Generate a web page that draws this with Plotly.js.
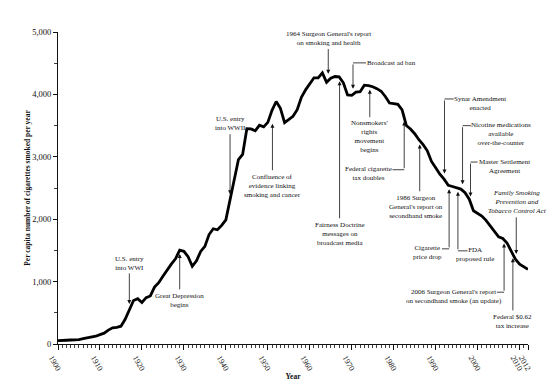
<!DOCTYPE html>
<html><head><meta charset="utf-8">
<script src="https://cdn.plot.ly/plotly-3.0.1.min.js"></script>
<style>html,body{margin:0;padding:0;background:#fff}#chart{width:560px;height:386px}</style>
</head><body><div id="chart"></div>
<script>
const years = [1900,1901,1902,1903,1904,1905,1906,1907,1908,1909,1910,1911,1912,1913,1914,1915,1916,1917,1918,1919,
1920,1921,1922,1923,1924,1925,1926,1927,1928,1929,1930,1931,1932,1933,1934,1935,1936,1937,1938,1939,
1940,1941,1942,1943,1944,1945,1946,1947,1948,1949,1950,1951,1952,1953,1954,1955,1956,1957,1958,1959,
1960,1961,1962,1963,1964,1965,1966,1967,1968,1969,1970,1971,1972,1973,1974,1975,1976,1977,1978,1979,
1980,1981,1982,1983,1984,1985,1986,1987,1988,1989,1990,1991,1992,1993,1994,1995,1996,1997,1998,1999,
2000,2001,2002,2003,2004,2005,2006,2007,2008,2009,2010,2011,2012];
const perCapita = [54,53,60,64,66,70,86,99,105,125,151,173,223,260,267,285,395,551,697,727,
665,742,770,911,982,1085,1189,1279,1366,1504,1485,1399,1245,1334,1483,1564,1754,1847,1830,1900,
1990,2300,2620,2956,3039,3449,3446,3416,3505,3480,3552,3744,3886,3778,3546,3597,3650,3755,3953,4073,
4171,4266,4265,4345,4194,4258,4287,4280,4186,3993,3985,4037,4043,4148,4141,4123,4092,4051,3967,3861,
3851,3840,3753,3502,3446,3370,3274,3197,3096,2926,2826,2720,2641,2543,2524,2505,2482,2423,2320,2136,
2092,2051,1982,1890,1814,1716,1691,1619,1487,1358,1280,1232,1196];
const xTickVals = [1900,1910,1920,1930,1940,1950,1960,1970,1980,1990,2000,2010,2012];
const xTickText = ['1900','1910','1920','1930','1940','1950','1960','1970','1980','1990','2000','2010','2012'];
const yTickVals = [0,1000,2000,3000,4000,5000];
const yTickText = ['0','1,000','2,000','3,000','4,000','5,000'];

function at(yr){
  for(let i=0;i<years.length-1;i++){
    if(yr>=years[i] && yr<=years[i+1]){
      const t=(yr-years[i])/(years[i+1]-years[i]);
      return perCapita[i]+t*(perCapita[i+1]-perCapita[i]);
    }
  }
  return perCapita[perCapita.length-1];
}

const FONT = '"Liberation Serif", "Times New Roman", serif';
const INK = '#111111';
const annotations = [];
const shapes = [];
function label(x,y,text,opts){
  annotations.push(Object.assign({x:x,y:y,xref:'x',yref:'y',text:text,showarrow:false,
    font:{family:FONT,size:7,color:INK},align:'center',xanchor:'center',yanchor:'middle',borderpad:0},opts||{}));
}
function arrow(x0,y0,x1,y1){
  annotations.push({x:x1,y:y1,ax:x0,ay:y0,axref:'x',ayref:'y',xref:'x',yref:'y',text:'',
    showarrow:true,arrowhead:2,arrowsize:1,arrowwidth:0.8,arrowcolor:INK,standoff:0});
}
function seg(x0,y0,x1,y1){
  shapes.push({type:'line',xref:'x',yref:'y',x0:x0,y0:y0,x1:x1,y1:y1,line:{color:INK,width:0.8}});
}

// annotations
label(1964.4,4895,"1964 Surgeon General's report<br>on smoking and health");
arrow(1964.4,4751,1964.4,at(1964.4)+110);

label(1973.5,4505,"Broadcast ad ban",{xanchor:'left'});
seg(1970.3,4505,1973.4,4505);
arrow(1970.3,4505,1970.3,at(1970.3)+90);

label(1974.3,3330,"Nonsmokers'<br>rights<br>movement<br>begins");
arrow(1974.3,3611,1974.3,at(1974.3)-60);

label(1973.9,2725,"Federal cigarette<br>tax doubles");
seg(1979.7,2793,1982.5,2793);
arrow(1982.5,2793,1982.5,at(1982.5)-60);

label(1985.4,2194,"1986 Surgeon<br>General's report on<br>secondhand smoke");
arrow(1986.2,2424,1986.2,at(1986.2)-60);

label(2000.6,3857,"Synar Amendment<br>enacted");
seg(1992.1,3927,1994.3,3927);
arrow(1992.1,3927,1992.1,at(1992.1)+100);

label(2005.6,3370,"Nicotine medications<br>available<br>over-the-counter");
seg(1996.4,3499,1998.4,3499);
arrow(1996.4,3499,1996.4,at(1996.4)+100);

label(2006.4,2849,"Master Settlement<br>Agreement");
seg(1998.3,2916,2000.0,2916);
arrow(1998.3,2916,1998.3,at(1998.3)+100);

label(2009.6,2268,"<i>Family Smoking<br>Prevention and<br>Tobacco Control Act</i>");
arrow(2009.2,2054,2009.2,at(2009.2)+100);

label(2008.4,356,"Federal $0.62<br>tax increase");
arrow(2008.4,514,2008.4,at(2008.4)-60);

label(1994.4,762,"2006 Surgeon General's report<br>on secondhand smoke (an update)");
seg(2004.6,830,2006.3,830);
arrow(2006.3,830,2006.3,at(2006.3)-60);

label(1988.0,1460,"Cigarette<br>price drop");
seg(1991.5,1525,1993.2,1525);
arrow(1993.2,1525,1993.2,at(1993.2)-60);

label(1999.4,1428,"FDA<br>proposed rule");
seg(1995.3,1493,1997.6,1493);
arrow(1995.3,1493,1995.3,at(1995.3)-60);

label(1967.1,1762,"Fairness Doctrine<br>messages on<br>broadcast media");
arrow(1967.1,1990,1967.1,at(1967.1)-60);

label(1951.1,2534,"Confluence of<br>evidence linking<br>smoking and cancer");
arrow(1951.1,2761,1951.1,at(1951.1)-230);

label(1941.0,3539,"U.S. entry<br>into WWII");
arrow(1941.0,3387,1941.0,at(1941.0)+100);

label(1917.0,1297,"U.S. entry<br>into WWI");
arrow(1917.0,1156,1917.0,at(1917.0)+90);

label(1929.0,690,"Great Depression<br>begins");
arrow(1929.0,851,1929.0,at(1929.0)-60);

const trace = {
  x: years, y: perCapita, type:'scatter', mode:'lines',
  line:{color:'#000',width:2.8}, hoverinfo:'skip', cliponaxis:false
};

const layout = {
  width:560, height:386,
  margin:{l:58,r:32,t:32,b:42},
  paper_bgcolor:'#fff', plot_bgcolor:'#fff',
  showlegend:false,
  font:{family:FONT,color:INK,size:8},
  xaxis:{
    range:[1900,2012], showgrid:false, zeroline:false,
    showline:true, linecolor:INK, linewidth:1,
    ticks:'outside', ticklen:5, tickwidth:1, tickcolor:INK,
    tickmode:'array', tickvals:xTickVals, ticktext:xTickText,
    tickangle:60, ticklabelshift:-6, tickfont:{family:FONT,size:8,color:INK},
    minor:{tickmode:'linear',tick0:1900,dtick:1,ticks:'outside',ticklen:3,tickwidth:0.8,tickcolor:INK},
    title:{text:'Year',font:{family:FONT,size:7.5,color:INK,weight:700},standoff:0}
  },
  yaxis:{
    range:[0,5000], showgrid:false, zeroline:false,
    showline:true, linecolor:INK, linewidth:1,
    ticks:'outside', ticklen:4, tickwidth:1, tickcolor:INK,
    tickmode:'array', tickvals:yTickVals, ticktext:yTickText,
    tickfont:{family:FONT,size:8.5,color:INK},
    minor:{tickmode:'linear',tick0:0,dtick:500,ticks:'outside',ticklen:3,tickwidth:0.8,tickcolor:INK},
    title:{text:'Per capita number of cigarettes smoked per year',font:{family:FONT,size:7.5,color:INK,weight:700},standoff:0}
  },
  annotations:annotations,
  shapes:shapes
};

Plotly.newPlot('chart',[trace],layout,{displayModeBar:false,staticPlot:true});
</script>
</body></html>
